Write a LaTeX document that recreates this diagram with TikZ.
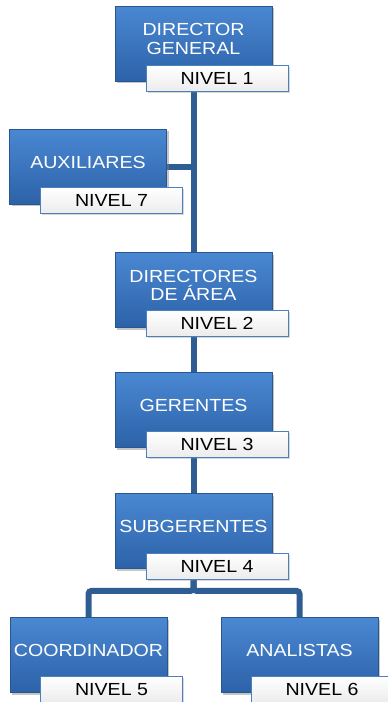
\documentclass[tikz,border=0pt]{standalone}
\usepackage{fontspec}
\setmainfont{Liberation Sans}
\newfontfamily\cajafont[FakeStretch=1.12]{Liberation Sans}
\usetikzlibrary{positioning,shadows,backgrounds}

\definecolor{boxtop}{HTML}{4A88D2}
\definecolor{boxbot}{HTML}{2C62A8}
\definecolor{boxline}{HTML}{2A5690}
\definecolor{conncol}{HTML}{2E5D93}
\definecolor{tagline}{HTML}{4B7FC0}

\tikzset{
  puesto/.style={draw=boxline, thick, top color=boxtop, bottom color=boxbot,
    minimum width=157pt, minimum height=75pt, text=white, align=center,
    font=\cajafont\fontsize{17.5}{18.5}\selectfont, text height=13pt, text depth=10pt,
    drop shadow={opacity=0.45, shadow xshift=2pt, shadow yshift=-2pt}},
  puesto2/.style={puesto, text height=31pt},
  nivel/.style={draw=tagline, thick, top color=white, bottom color=gray!15,
    minimum width=142pt, minimum height=26pt, text=black,
    font=\cajafont\fontsize{17.5}{18}\selectfont, inner sep=0pt,
    drop shadow={opacity=0.3, shadow xshift=1.5pt, shadow yshift=-1.5pt}},
  conn/.style={draw=conncol, line width=6pt}
}

\begin{document}
\begin{tikzpicture}[x=1pt, y=-1pt]
  \useasboundingbox (0,0) rectangle (388,702);

  % Puestos
  \node[puesto2] (dg) at (193.5,43.5) {DIRECTOR\\GENERAL};
  \node[nivel] (n1) at (217,78.5) {NIVEL 1};

  \node[puesto] (aux) at (88,166.5) {AUXILIARES};
  \node[nivel] (n7) at (111.5,200.5) {NIVEL 7};

  \node[puesto2] (da) at (193.5,290) {DIRECTORES\\DE ÁREA};
  \node[nivel] (n2) at (217,323) {NIVEL 2};

  \node[puesto] (ger) at (193.5,410) {GERENTES};
  \node[nivel] (n3) at (217,444) {NIVEL 3};

  \node[puesto] (sub) at (193.5,531) {SUBGERENTES};
  \node[nivel] (n4) at (217,566) {NIVEL 4};

  \node[puesto] (coord) at (88.5,655) {COORDINADOR};
  \node[nivel] (n5) at (111.5,689.5) {NIVEL 5};

  \node[puesto] (anal) at (299.5,655) {ANALISTAS};
  \node[nivel] (n6) at (322,689.5) {NIVEL 6};

  % Conexiones
  \begin{pgfonlayer}{background}
    \draw[conn] (dg.south) -- (da.north);
    \draw[conn] (aux.east) -- (aux.east -| dg.south);
    \draw[conn] (da.south) -- (ger.north);
    \draw[conn] (ger.south) -- (sub.north);
    \draw[conn, rounded corners=3pt] (sub.south) -- ++(0,22) -| (coord.north);
    \draw[conn, rounded corners=3pt] (sub.south) -- ++(0,22) -| (anal.north);
  \end{pgfonlayer}
\end{tikzpicture}
\end{document}
